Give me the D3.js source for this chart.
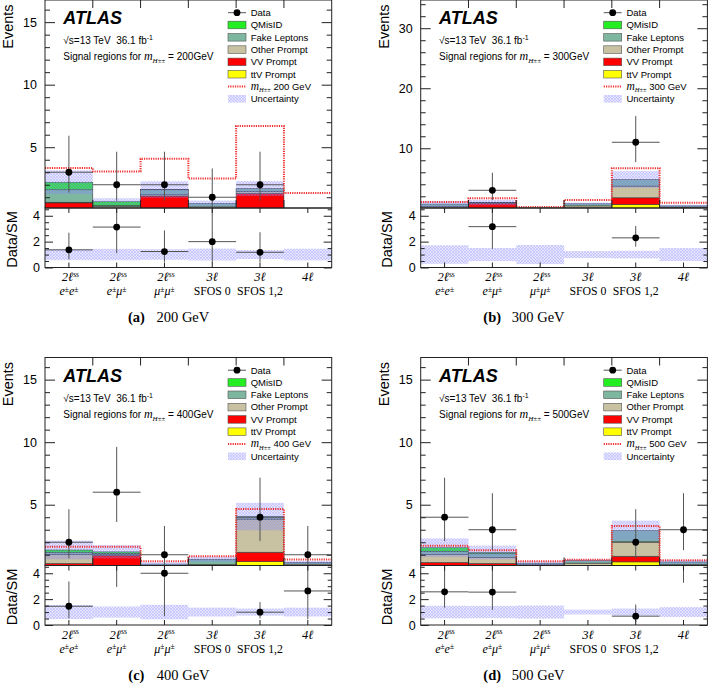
<!DOCTYPE html>
<html><head><meta charset="utf-8">
<script src="https://cdn.jsdelivr.net/npm/d3@7"></script>
<style>
body{margin:0;background:#fff}
svg{display:block}
text{white-space:pre}
</style>
</head><body>
<svg id="c" width="709" height="683"></svg>
<script>
// ---------------- DATA ----------------
const categories = ["ee","emu","mumu","3l0","3l12","4l"];
const catLine1 = ["2ℓ","2ℓ","2ℓ","3ℓ","3ℓ","4ℓ"];
const catLine1Sup = ["ss","ss","ss","","",""];
const catLine2 = ["e±e±","e±μ±","μ±μ±","SFOS 0","SFOS 1,2",""];
const masses = ["200","300","400","500"];
const panelLetters = ["(a)","(b)","(c)","(d)"];

// per mass point, per bin (stack order bottom -> top: ttV, VV, Other, Fake, QMisID)
const ttvPrompt = [
  [0,    0.04, 0,    0,    0.10, 0],
  [0,    0,    0,    0,    0.65, 0],
  [0,    0,    0,    0,    0.45, 0],
  [0,    0,    0,    0,    0.43, 0]];
const vvPrompt = [
  [0.55, 0.05, 1.10, 0.03, 1.20, 0],
  [0.05, 0.85, 0,    0.05, 1.10, 0.10],
  [0.30, 0.95, 0,    0.02, 0.75, 0.15],
  [0.38, 0.30, 0.02, 0.03, 0.45, 0.12]];
const otherPrompt = [
  [0.05, 0.15, 0.10, 0.20, 0.15, 0.01],
  [0.25, 0.05, 0.01, 0.35, 1.95, 0.10],
  [0.72, 0.05, 0.15, 0.20, 2.65, 0.10],
  [0.64, 0.48, 0.18, 0.30, 1.15, 0.10]];
const fakeLeptons = [
  [1.00, 0.10, 0.40, 0.27, 0.25, 0.01],
  [0.40, 0.05, 0.02, 0.35, 1.10, 0.20],
  [0.16, 0.10, 0.10, 0.42, 0.20, 0.13],
  [0.26, 0.30, 0.12, 0.20, 0.90, 0.20]];
const qMisID = [
  [0.60, 0.30, 0.02, 0,    0,    0],
  [0,    0,    0,    0,    0,    0],
  [0.20, 0.13, 0,    0,    0,    0],
  [0.28, 0.10, 0,    0,    0,    0]];
const bkgUncertainty = [
  [0.95, 0.28, 0.66, 0.23, 0.60, 0.009],
  [0.50, 0.48, 0.022,0.20, 1.40, 0.20],
  [0.75, 0.53, 0.14, 0.22, 1.10, 0.13],
  [0.75, 0.55, 0.16, 0.10, 0.80, 0.16]];
const signalYield = [
  [1.13, 2.42, 2.45, 2.00, 5.00, 1.31],
  [0.35, 0.72, 0.19, 0.63, 1.87, 0.53],
  [0.25, 0.40, 0.23, 0.24, 0.60, 0.24],
  [0.15, 0.18, 0.16, 0.07, 0.36, 0.14]];
const dataCounts = [
  [3, 2, 2, 1, 2, null],
  [null, 3, null, null, 11, null],
  [2, 6, 1, null, 4, 1],
  [4, 3, null, null, 2, 3]];
const dataErrLow = [
  [1.63, 1.29, 1.29, 0.83, 1.29, null],
  [null, 1.63, null, null, 3.28, null],
  [1.29, 2.38, 0.83, null, 1.91, 0.83],
  [1.91, 1.63, null, null, 1.29, 1.63]];
const dataErrHigh = [
  [2.92, 2.64, 2.64, 2.30, 2.64, null],
  [null, 2.92, null, null, 4.39, null],
  [2.64, 3.62, 2.30, null, 3.16, 2.30],
  [3.16, 2.92, null, null, 2.64, 2.92]];

const eventsRange = [[0.14,16.77],[0.05,34.7],[0.14,16.77],[0.14,16.77]];
const eventsTicks = [[5,10,15],[10,20,30],[5,10,15],[5,10,15]];
const eventsMinorStep = [1,2,1,1];
const ratioRange = [0,4.6];
const ratioTicks = [0,2,4];
const ratioMinorStep = 0.5;

const legendNames = ["Data","QMisID","Fake Leptons","Other Prompt","VV Prompt","ttV Prompt","signal","Uncertainty"];

// ---------------- STYLE / LAYOUT ----------------
const keys = ["ttv","vv","other","fake","qmis"];
const colors = {ttv:"#ffff00", vv:"#ff0000", other:"#c8c2a2", fake:"#7db79f", qmis:"#22ee22"};
const W = 286.7, H1 = 208, H2 = 59.5;
const panels = [{L:45,T:0,cx:128},{L:420.7,T:0,cx:483.3},{L:45,T:357.5,cx:128.3},{L:420.7,T:357.5,cx:483.3}];
const SANS = '"Liberation Sans",Arial,sans-serif';
const SERIF = '"Liberation Serif","Times New Roman",serif';

const svg = d3.select("#c");
const defs = svg.append("defs");
const pat = defs.append("pattern").attr("id","hatch").attr("width",3).attr("height",3)
  .attr("patternUnits","userSpaceOnUse");
pat.append("rect").attr("width",3).attr("height",3).attr("fill","rgba(130,130,255,0.2)");
pat.append("path").attr("d","M0,0L3,3M3,0L0,3").attr("stroke","#8a8aff").attr("stroke-width",0.5).attr("opacity",0.6);

function rich(g, x, y, parts, anchor) {
  const t = g.append("text").attr("x",x).attr("y",y).attr("text-anchor",anchor||"start");
  let shift = 0;
  parts.forEach(p => {
    const target = p.dy || 0;
    const ts = t.append("tspan").attr("dy", target - shift).text(p.t)
      .style("font-family", p.serif ? SERIF : SANS)
      .style("font-size", p.size + "px");
    if (p.it) ts.style("font-style","italic");
    if (p.bold) ts.style("font-weight","bold");
    shift = target;
  });
  return t;
}

function minorTicks(range, step, majors) {
  const out = [];
  for (let v = Math.ceil(range[0]/step)*step; v <= range[1] + 1e-9; v += step) {
    const r = Math.round(v*1000)/1000;
    if (!majors.some(m => Math.abs(m-r) < 1e-6)) out.push(r);
  }
  return out;
}

function styleAxis(sel) {
  sel.select(".domain").remove();
  sel.attr("color","#222");
  sel.selectAll("line").attr("stroke-width",1);
}

const fmt = d3.format("d");

panels.forEach((P, p) => {
  const L = P.L, T = P.T;
  const g = svg.append("g");
  const x = d3.scaleBand().domain(categories).range([L, L + W]).padding(0);
  const bw = x.bandwidth();
  const y = d3.scaleLinear().domain(eventsRange[p]).range([T + H1, T]);
  const yr = d3.scaleLinear().domain(ratioRange).range([T + H1 + H2, T + H1]);

  const rows = categories.map((c, i) => ({
    cat: c, ttv: ttvPrompt[p][i], vv: vvPrompt[p][i], other: otherPrompt[p][i],
    fake: fakeLeptons[p][i], qmis: qMisID[p][i]
  }));
  const totals = rows.map(r => keys.reduce((s, k) => s + r[k], 0));
  const series = d3.stack().keys(keys)(rows);

  defs.append("clipPath").attr("id","cu"+p).append("rect").attr("x",L).attr("y",T).attr("width",W).attr("height",H1);
  defs.append("clipPath").attr("id","cl"+p).append("rect").attr("x",L).attr("y",T+H1).attr("width",W).attr("height",H2);

  // ---- upper pad ----
  const gu = g.append("g").attr("clip-path",`url(#cu${p})`);
  series.forEach(layer => {
    gu.selectAll(null).data(layer.filter(d => d[1] - d[0] > 0)).join("rect")
      .attr("x", d => x(d.data.cat)).attr("width", bw)
      .attr("y", d => y(d[1])).attr("height", d => y(d[0]) - y(d[1]))
      .attr("fill", colors[layer.key]).attr("stroke","#3a3a3a").attr("stroke-width",0.6);
  });
  gu.selectAll(null).data(categories).join("rect")
    .attr("x", c => x(c)).attr("width", bw)
    .attr("y", (c, i) => y(totals[i] + bkgUncertainty[p][i]))
    .attr("height", (c, i) => y(Math.max(totals[i] - bkgUncertainty[p][i], eventsRange[p][0] - 1)) - y(totals[i] + bkgUncertainty[p][i]))
    .attr("fill","url(#hatch)");
  let d = "";
  categories.forEach((c, i) => {
    const lv = y(totals[i] + signalYield[p][i]);
    d += (i === 0 ? `M${x(c)},${lv}` : `V${lv}`) + `H${x(c) + bw}`;
  });
  gu.append("path").attr("d", d).attr("fill","none").attr("stroke","#f03030")
    .attr("stroke-width",2).attr("stroke-dasharray","1.2,1.1");
  categories.forEach((c, i) => {
    const n = dataCounts[p][i];
    if (n === null) return;
    const cx = x(c) + bw / 2;
    gu.append("line").attr("x1",cx).attr("x2",cx)
      .attr("y1", y(n - dataErrLow[p][i])).attr("y2", y(n + dataErrHigh[p][i]))
      .attr("stroke","#555").attr("stroke-width",1);
    gu.append("line").attr("x1",x(c)).attr("x2",x(c)+bw).attr("y1",y(n)).attr("y2",y(n))
      .attr("stroke","#555").attr("stroke-width",1);
    gu.append("circle").attr("cx",cx).attr("cy",y(n)).attr("r",3.4).attr("fill","#000");
  });

  // ---- lower pad ----
  const gl = g.append("g").attr("clip-path",`url(#cl${p})`);
  gl.selectAll(null).data(categories).join("rect")
    .attr("x", c => x(c)).attr("width", bw)
    .attr("y", (c, i) => yr(1 + bkgUncertainty[p][i] / totals[i]))
    .attr("height", (c, i) => yr(1 - bkgUncertainty[p][i] / totals[i]) - yr(1 + bkgUncertainty[p][i] / totals[i]))
    .attr("fill","url(#hatch)");
  categories.forEach((c, i) => {
    const n = dataCounts[p][i];
    if (n === null) return;
    const r = n / totals[i];
    const cx = x(c) + bw / 2;
    gl.append("line").attr("x1",cx).attr("x2",cx)
      .attr("y1", yr((n - dataErrLow[p][i]) / totals[i])).attr("y2", yr((n + dataErrHigh[p][i]) / totals[i]))
      .attr("stroke","#555").attr("stroke-width",1);
    gl.append("line").attr("x1",x(c)).attr("x2",x(c)+bw).attr("y1",yr(r)).attr("y2",yr(r))
      .attr("stroke","#555").attr("stroke-width",1);
    gl.append("circle").attr("cx",cx).attr("cy",yr(r)).attr("r",3.4).attr("fill","#000");
  });

  // ---- frames ----
  g.append("rect").attr("x",L).attr("y",T).attr("width",W).attr("height",H1)
    .attr("fill","none").attr("stroke","#222").attr("stroke-width",1);
  g.append("rect").attr("x",L).attr("y",T+H1).attr("width",W).attr("height",H2)
    .attr("fill","none").attr("stroke","#222").attr("stroke-width",1);

  // ---- y ticks upper ----
  const minU = minorTicks(eventsRange[p], eventsMinorStep[p], eventsTicks[p]);
  g.append("g").attr("transform",`translate(${L},0)`).call(d3.axisRight(y).tickValues(eventsTicks[p]).tickSize(10).tickFormat("")).call(styleAxis);
  g.append("g").attr("transform",`translate(${L},0)`).call(d3.axisRight(y).tickValues(minU).tickSize(5).tickFormat("")).call(styleAxis);
  g.append("g").attr("transform",`translate(${L+W},0)`).call(d3.axisLeft(y).tickValues(eventsTicks[p]).tickSize(10).tickFormat("")).call(styleAxis);
  g.append("g").attr("transform",`translate(${L+W},0)`).call(d3.axisLeft(y).tickValues(minU).tickSize(5).tickFormat("")).call(styleAxis);
  const labU = g.append("g").attr("transform",`translate(${L},0)`).call(d3.axisLeft(y).tickValues(eventsTicks[p]).tickSize(0).tickPadding(8).tickFormat(fmt));
  labU.call(styleAxis);
  labU.selectAll("text").style("font-family",SANS).style("font-size","12.5px").attr("fill","#000");

  // ---- y ticks lower ----
  const minR = minorTicks(ratioRange, ratioMinorStep, ratioTicks);
  g.append("g").attr("transform",`translate(${L},0)`).call(d3.axisRight(yr).tickValues(ratioTicks).tickSize(8).tickFormat("")).call(styleAxis);
  g.append("g").attr("transform",`translate(${L},0)`).call(d3.axisRight(yr).tickValues(minR).tickSize(4).tickFormat("")).call(styleAxis);
  g.append("g").attr("transform",`translate(${L+W},0)`).call(d3.axisLeft(yr).tickValues(ratioTicks).tickSize(8).tickFormat("")).call(styleAxis);
  g.append("g").attr("transform",`translate(${L+W},0)`).call(d3.axisLeft(yr).tickValues(minR).tickSize(4).tickFormat("")).call(styleAxis);
  const labR = g.append("g").attr("transform",`translate(${L},0)`).call(d3.axisLeft(yr).tickValues(ratioTicks).tickSize(0).tickPadding(5).tickFormat(fmt));
  labR.call(styleAxis);
  labR.selectAll("text").style("font-family",SANS).style("font-size","12.5px").attr("fill","#000");

  // ---- x ticks and category labels ----
  categories.forEach((c, i) => {
    if (i > 0) {
      g.append("line").attr("x1",x(c)).attr("x2",x(c)).attr("y1",T).attr("y2",T+8).attr("stroke","#222");
      g.append("line").attr("x1",x(c)).attr("x2",x(c)).attr("y1",T+H1).attr("y2",T+H1-8).attr("stroke","#222");
    }
    const cx = x(c) + bw / 2;
    g.append("line").attr("x1",cx).attr("x2",cx).attr("y1",T+H1).attr("y2",T+H1+5).attr("stroke","#222");
    g.append("line").attr("x1",cx).attr("x2",cx).attr("y1",T+H1+H2).attr("y2",T+H1+H2-5).attr("stroke","#222");
    const parts1 = [{t:catLine1[i], serif:true, it:true, size:12.5}];
    if (catLine1Sup[i]) parts1.push({t:catLine1Sup[i], serif:true, size:7.5, dy:-4.5});
    rich(g, cx + (catLine1Sup[i] ? 1.5 : 0), T + 281, parts1, "middle");
    const s = catLine2[i];
    if (s) {
      if (s.startsWith("SFOS")) {
        rich(g, cx, T + 295, [{t:s, serif:true, size:11.8}], "middle");
      } else {
        const parts2 = [];
        for (const ch of s) {
          if (ch === "±") parts2.push({t:ch, serif:true, size:7.5, dy:-3.5});
          else parts2.push({t:ch, serif:true, it:true, size:12});
        }
        rich(g, cx, T + 295, parts2, "middle");
      }
    }
  });

  // ---- axis titles ----
  g.append("text").attr("transform",`translate(${L-32},${T+4.4}) rotate(-90)`)
    .attr("text-anchor","end").style("font-family",SANS).style("font-size","14.5px").text("Events");
  g.append("text").attr("transform",`translate(${L-28.5},${T+239.5}) rotate(-90)`)
    .attr("text-anchor","middle").style("font-family",SANS).style("font-size","14.5px").text("Data/SM");

  // ---- ATLAS labels ----
  g.append("text").attr("x",L+18.3).attr("y",T+24).style("font-family",SANS)
    .style("font-size","18px").style("font-weight","bold").style("font-style","italic").text("ATLAS");
  rich(g, L+18.3, T+44, [{t:"√s=13 TeV  36.1 fb", size:10},{t:"-1", size:7, dy:-4}]);
  rich(g, L+18.3, T+60, [{t:"Signal regions for ", size:10},{t:"m", serif:true, it:true, size:12},
    {t:"H±±", serif:true, it:true, size:7, dy:3},{t:" = " + masses[p] + "GeV", size:10}]);

  // ---- legend ----
  const lx = L + 183, lw = 18, tx = L + 205.7;
  legendNames.forEach((name, k) => {
    const cy = T + 12.7 + k * 12.3;
    if (k === 0) {
      g.append("line").attr("x1",lx).attr("x2",lx+lw).attr("y1",cy).attr("y2",cy).attr("stroke","#555");
      g.append("circle").attr("cx",lx+lw/2).attr("cy",cy).attr("r",3.4).attr("fill","#000");
    } else if (k >= 1 && k <= 5) {
      const key = ["qmis","fake","other","vv","ttv"][k-1];
      g.append("rect").attr("x",lx).attr("y",cy-3.8).attr("width",lw).attr("height",7.6)
        .attr("fill",colors[key]).attr("stroke","#555").attr("stroke-width",0.6);
    } else if (k === 6) {
      g.append("line").attr("x1",lx).attr("x2",lx+lw).attr("y1",cy).attr("y2",cy)
        .attr("stroke","#f03030").attr("stroke-width",2).attr("stroke-dasharray","1.2,1.1");
    } else {
      g.append("rect").attr("x",lx).attr("y",cy-3.8).attr("width",lw).attr("height",7.6).attr("fill","url(#hatch)");
    }
    if (name === "signal") {
      rich(g, tx, cy + 3.3, [{t:"m", serif:true, it:true, size:11.5},{t:"H±±", serif:true, it:true, size:6.5, dy:2.5},
        {t:" " + masses[p] + " GeV", size:9.5}]);
    } else {
      rich(g, tx, cy + 3.3, [{t:name, size:9.5}]);
    }
  });

  // ---- caption ----
  rich(g, P.cx, T + 322, [{t:panelLetters[p], serif:true, bold:true, size:14.5}]);
  rich(g, P.cx + 28.5, T + 322, [{t:masses[p] + " GeV", serif:true, size:14.5}]);
});
</script>
</body></html>
